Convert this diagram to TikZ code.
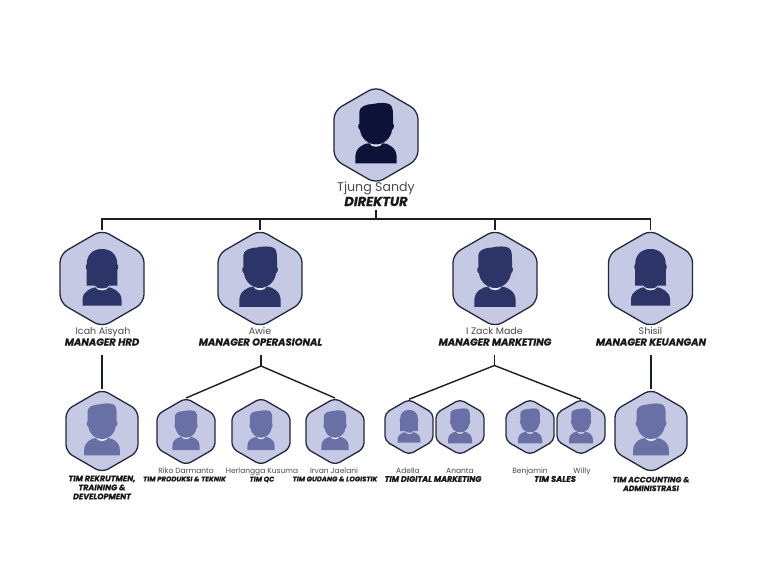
\documentclass[tikz,border=0pt]{standalone}
\usepackage{fontspec}
\setmainfont{Poppins}
\usetikzlibrary{shapes.geometric}
\pgfdeclarelayer{bg}
\pgfsetlayers{bg,main}
\definecolor{hexfill}{HTML}{C5C9E3}
\definecolor{hexline}{HTML}{23283F}
\definecolor{topc}{HTML}{0D1238}
\definecolor{mgrc}{HTML}{2C3468}
\definecolor{teamc}{HTML}{6870A5}
\definecolor{collar}{HTML}{E6E8F3}
\definecolor{namec}{HTML}{4A4A4A}
\definecolor{linkc}{HTML}{1A1D2E}
\tikzset{
 x=1pt,y=-1pt,
 hexnode/.style={regular polygon,regular polygon sides=6,shape border rotate=30,draw=hexline,fill=hexfill,line width=1.3pt,inner sep=0pt,outer sep=0pt},
 link/.style={draw=linkc,line width=1.4pt},
 namelabel/.style={font=\fontsize{#1}{#1}\selectfont,text=namec,inner sep=0pt,align=center,text height=0.75em,text depth=0.2em},
 rolelabel/.style={font=\fontsize{#1}{#1}\selectfont\bfseries\itshape\addfontfeature{FakeBold=0.6},text=black!90,inner sep=0pt,align=center},
}
\newcommand{\malefig}[4]{\begin{scope}[shift={(#1,#2)},scale=#3]
 \fill[#4] (-20.7,28.3) -- (-20.7,22) .. controls (-20.7,13) and (-13,8.5) .. (-6.3,8) -- (6.3,8) .. controls (13,8.5) and (20.7,13) .. (20.7,22) -- (20.7,28.3) -- cycle;
 \fill[collar] (-7,8) .. controls (-4,13) and (4,13) .. (7,8) -- cycle;
 \fill[#4] (-16.7,-23) .. controls (-17,-28) and (-10,-31) .. (-3,-31) .. controls (3,-32.5) and (11,-32.5) .. (14,-30.5) .. controls (17,-28) and (17,-24) .. (17,-18) -- (17,-11) .. controls (18.5,-11) and (18,-6) .. (16,-5) .. controls (15,3) and (8,9.5) .. (0,9.5) .. controls (-8,9.5) and (-15,3) .. (-16,-5) .. controls (-18,-6) and (-18.5,-11) .. (-16.7,-11) -- cycle;
\end{scope}}
\newcommand{\femalefig}[4]{\begin{scope}[shift={(#1,#2)},scale=#3]
 \fill[#4] (-19.5,27) -- (-19.5,21) .. controls (-19.5,13) and (-11,9.5) .. (-6,8.5) -- (6,8.5) .. controls (11,9.5) and (19.5,13) .. (19.5,21) -- (19.5,27) -- cycle;
 \fill[collar] (-7,8.5) .. controls (-4,13) and (4,13) .. (7,8.5) -- cycle;
 \fill[#4] (-15.5,7) -- (-15.3,-9) .. controls (-16.5,-9) and (-16.5,-14) .. (-15.3,-14) .. controls (-15.3,-24) and (-9,-29.5) .. (0,-29.5) .. controls (9,-29.5) and (15.3,-24) .. (15.3,-14) .. controls (16.5,-14) and (16.5,-9) .. (15.3,-9) -- (15.5,7) -- (7,7) .. controls (5,10) and (2,10) .. (0,10) .. controls (-2,10) and (-5,10) .. (-7,7) -- cycle;
\end{scope}}
\newcommand{\hexn}[4]{\node[hexnode,minimum size=#4*2.31pt,rounded corners=#4*0.2pt] (#1) at (#2,#3) {};}
\begin{document}
\begin{tikzpicture}
\useasboundingbox (0,0) rectangle (768,588);
\hexn{dir}{376}{135}{42}
\malefig{376}{135}{1}{topc}
\node[namelabel=12.6] (dirname) at (376,188.5) {Tjung Sandy};
\node[rolelabel=13] (dirrole) at (376,201.5) {DIREKTUR};
\hexn{hrd}{102}{278.5}{42}
\femalefig{102}{278.5}{1}{mgrc}
\hexn{ops}{260}{278.5}{42}
\malefig{260}{278.5}{1}{mgrc}
\hexn{mkt}{495}{278.5}{42}
\malefig{495}{278.5}{1}{mgrc}
\hexn{keu}{650.5}{278.5}{42}
\femalefig{650.5}{278.5}{1}{mgrc}
\node[namelabel=9.5] (hrdname) at (103,332) {Icah Aisyah};
\node[rolelabel=10] (hrdrole) at (102,342) {MANAGER HRD};
\node[namelabel=9.5] (opsname) at (260,332) {Awie};
\node[rolelabel=10] (opsrole) at (260.5,342) {MANAGER OPERASIONAL};
\node[namelabel=9.5] (mktname) at (494.5,332) {I Zack Made};
\node[rolelabel=10] (mktrole) at (495,342) {MANAGER MARKETING};
\node[namelabel=9.5] (keuname) at (650.5,332) {Shisil};
\node[rolelabel=10] (keurole) at (651,342) {MANAGER KEUANGAN};
\hexn{t1}{102}{431}{36}
\malefig{102}{431}{0.86}{teamc}
\hexn{t2}{186}{431.5}{29}
\malefig{186}{431.5}{0.66}{teamc}
\hexn{t3}{261}{431.5}{29}
\malefig{261}{431.5}{0.66}{teamc}
\hexn{t4}{335}{431.5}{29}
\malefig{335}{431.5}{0.66}{teamc}
\hexn{t5}{409}{427}{24}
\femalefig{409}{427}{0.58}{teamc}
\hexn{t6}{460}{427}{24}
\malefig{460}{427}{0.58}{teamc}
\hexn{t7}{530}{427}{24}
\malefig{530}{427}{0.58}{teamc}
\hexn{t8}{581}{427}{24}
\malefig{581}{427}{0.58}{teamc}
\hexn{t9}{651}{431}{36}
\malefig{651}{431}{0.86}{teamc}
\node[namelabel=7.5] (n2) at (186,471) {Riko Darmanto};
\node[namelabel=7.5] (n3) at (262,471) {Herlangga Kusuma};
\node[namelabel=7.5] (n4) at (334,471) {Irvan Jaelani};
\node[namelabel=7.5] (n5) at (408,471) {Adella};
\node[namelabel=7.5] (n6) at (460,471) {Ananta};
\node[namelabel=7.5] (n7) at (530,471) {Benjamin};
\node[namelabel=7.5] (n8) at (582,471) {Willy};
\node[rolelabel=8] (r1) at (102,487.5) {TIM REKRUTMEN,\\[1pt]TRAINING \&\\[1pt]DEVELOPMENT};
\node[rolelabel=6.9] (r2) at (184.5,479) {TIM PRODUKSI \& TEKNIK};
\node[rolelabel=6.9] (r3) at (262,479.5) {TIM QC};
\node[rolelabel=6.9] (r4) at (335,479) {TIM GUDANG \& LOGISTIK};
\node[rolelabel=8] (r5) at (433,479) {TIM DIGITAL MARKETING};
\node[rolelabel=8.3] (r6) at (555,479) {TIM SALES};
\node[rolelabel=7.7] (r9) at (651,484) {TIM ACCOUNTING \&\\[1pt]ADMINISTRASI};
\coordinate (trunk) at (376,210);
\coordinate (bus) at (376,219);
\coordinate (ops1) at (261,355);
\coordinate (ops2) at (261,366);
\coordinate (mkt1) at (494.5,355);
\coordinate (mkt2) at (494.5,365.5);
\coordinate (hrd1) at (102,355);
\coordinate (keu1) at (651,355);
\begin{pgfonlayer}{bg}
\fill[white] (0,0) rectangle (768,588);
\draw[link] (trunk) -- (bus);
\draw[link] (hrd.north) |- (bus) -| (keu.north);
\draw[link] (ops.north) -- (ops.north |- bus);
\draw[link] (mkt.north) -- (mkt.north |- bus);
\draw[link] (hrd1) -- (t1.north);
\draw[link] (keu1) -- (t9.north);
\draw[link] (ops1) -- (ops2);
\draw[link] (t2.north) -- (ops2) -- (t4.north);
\draw[link] (mkt1) -- (mkt2);
\draw[link] (t5.north) -- (mkt2) -- (t8.north);
\end{pgfonlayer}
\end{tikzpicture}
\end{document}
